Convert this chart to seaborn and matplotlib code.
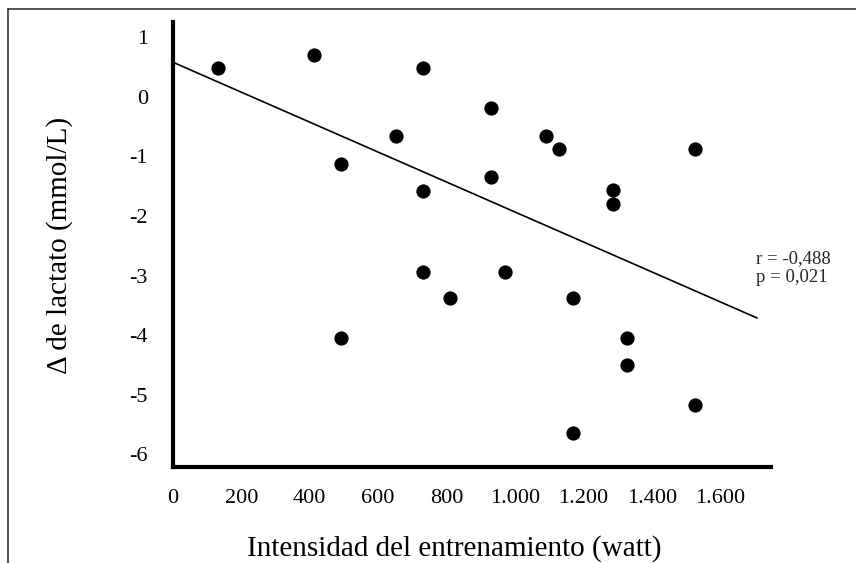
import pandas as pd
import matplotlib
matplotlib.use('Agg')
import matplotlib.pyplot as plt
import seaborn as sns
from matplotlib.lines import Line2D

# Datos
intensidad_watt = [132, 412, 730, 652, 491, 730, 930, 1090, 1129, 930, 1287,
                   1287, 1526, 730, 810, 491, 971, 1169, 1327, 1327, 1526, 1169]
delta_lactato = [0.48, 0.70, 0.48, -0.65, -1.12, -1.58, -0.19, -0.65, -0.88, -1.34, -1.57,
                 -1.79, -0.88, -2.94, -3.38, -4.05, -2.94, -3.38, -4.04, -4.50, -5.17, -5.64]

# Línea de tendencia (extremos)
tendencia_x = [0, 1708]
tendencia_y = [0.58, -3.71]

x_ticks = [0, 200, 400, 600, 800, 1000, 1200, 1400, 1600]
x_labels = ['0', '200', '400', '600', '800', '1.000', '1.200', '1.400', '1.600']
y_ticks = [1, 0, -1, -2, -3, -4, -5, -6]
y_labels = ['1', '0', '-1', '-2', '-3', '-4', '-5', '-6']
texto_stats = 'r = -0,488\np = 0,021'

df = pd.DataFrame({'x': intensidad_watt, 'y': delta_lactato})
df_linea = pd.DataFrame({'x': tendencia_x, 'y': tendencia_y})

sns.set_style('white')
plt.rcParams['font.family'] = ['Liberation Serif', 'DejaVu Serif']
plt.rcParams['axes.unicode_minus'] = False

fig = plt.figure(figsize=(8.56, 5.63), dpi=100)
ax = fig.add_axes([0.2021, 0.1705, 0.6983, 0.7909])

sns.lineplot(data=df_linea, x='x', y='y', color='black', linewidth=1.2, ax=ax)
sns.scatterplot(data=df, x='x', y='y', color='black', s=105, linewidth=0, ax=ax, zorder=3)

ax.set_xlim(0, 1748)
ax.set_ylim(-6.21, 1.26)
ax.set_xticks(x_ticks)
ax.set_xticklabels(x_labels)
ax.set_yticks(y_ticks)
ax.set_yticklabels(y_labels)
ax.tick_params(axis='both', length=0, labelsize=16, labelcolor='black')
ax.tick_params(axis='y', pad=18)
ax.tick_params(axis='x', pad=16)

for lado in ['top', 'right']:
    ax.spines[lado].set_visible(False)
for lado in ['left', 'bottom']:
    ax.spines[lado].set_linewidth(3)
    ax.spines[lado].set_color('black')

ax.set_xlabel('Intensidad del entrenamiento (watt)', fontsize=21, color='black')
ax.set_ylabel('Δ de lactato (mmol/L)', fontsize=21, color='black')
ax.xaxis.set_label_coords(0.471, -0.153)
ax.yaxis.set_label_coords(-0.167, 0.4967)

ax.text(1705, -2.87, texto_stats, ha='left', va='center', fontsize=13.5, linespacing=1.15)

# marco (bordes superior e izquierdo del recorte)
borde_x = 8 / 856
borde_y = 1 - 9 / 563
fig.add_artist(Line2D([borde_x, borde_x], [0, borde_y], transform=fig.transFigure,
                      color='#333333', linewidth=1.2))
fig.add_artist(Line2D([borde_x, 1], [borde_y, borde_y], transform=fig.transFigure,
                      color='#333333', linewidth=1.2))

plt.savefig('out.png', dpi=100)
